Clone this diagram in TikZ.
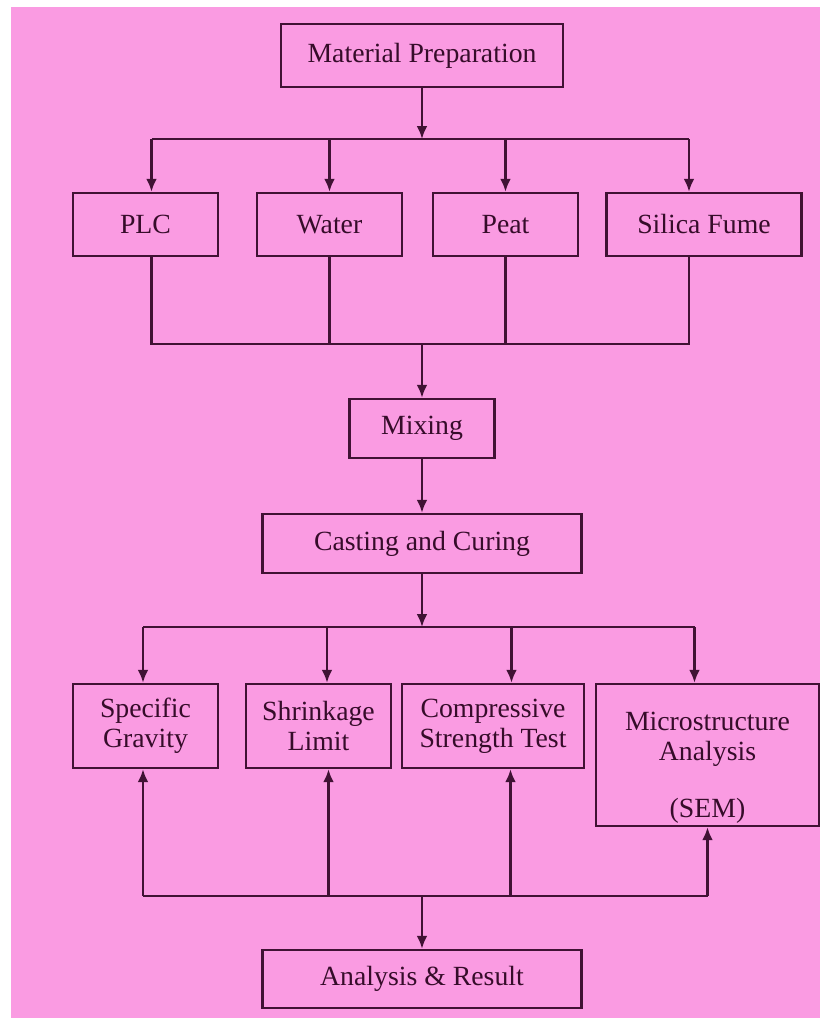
\documentclass[tikz,border=0pt]{standalone}
\usepackage{fontspec}
\setmainfont{Liberation Serif}
\usetikzlibrary{arrows.meta,calc,positioning}
\definecolor{flowpink}{RGB}{250,155,226}
\definecolor{flowline}{RGB}{64,18,52}
\definecolor{flowtext}{RGB}{54,12,42}
\tikzset{
    block/.style = {draw=flowline, rectangle, line width=1.4pt,
        minimum height=1.26cm,
        minimum width=2.9cm, align=center, text=flowtext,
        font=\fontsize{15.8}{17}\selectfont, inner sep=0pt},
    link/.style = {draw=flowline, line width=1.4pt},
    arrow/.style = {link, -{Latex[length=0.26cm,width=0.22cm]}}
}
\begin{document}
\begin{tikzpicture}
    \useasboundingbox (0,0) rectangle (16.4,-20.38);
    \fill [flowpink] (0.22,-0.14) rectangle (16.4,-20.36);
    % preparation and ingredients
    \node [block, minimum width=5.64cm] (mp) at (8.44,-1.11) {Material Preparation};
    \node [block] (plc) at (2.91,-4.49) {PLC};
    \node [block, right of=plc, node distance=3.68cm] (water) {Water};
    \node [block, right of=water, node distance=3.52cm] (peat) {Peat};
    \node [block, right of=peat, node distance=3.97cm, minimum width=3.9cm] (silica) {Silica Fume};
    \coordinate [below of=mp, node distance=1.67cm] (split1);
    \draw [arrow] (mp) -- (split1);
    \draw [link] ([xshift=0.12cm]plc.north |- split1) -- ([xshift=-0.3cm]silica.north |- split1);
    \draw [arrow] ([xshift=0.12cm]plc.north |- split1) -- ([xshift=0.12cm]plc.north);
    \draw [arrow] (water.north |- split1) -- (water);
    \draw [arrow] (peat.north |- split1) -- (peat);
    \draw [arrow] ([xshift=-0.3cm]silica.north |- split1) -- ([xshift=-0.3cm]silica.north);
    % mixing and casting
    \node [block, below of=mp, node distance=7.46cm, minimum height=1.18cm] (mixing) {Mixing};
    \node [block, below of=mixing, node distance=2.3cm, minimum width=6.38cm, minimum height=1.18cm] (casting) {Casting and Curing};
    \coordinate [above of=mixing, node distance=1.69cm] (join1);
    \draw [link] ([xshift=0.12cm]plc.south) -- ([xshift=0.12cm]plc.south |- join1) -- ([xshift=-0.3cm]silica.south |- join1) -- ([xshift=-0.3cm]silica.south);
    \draw [link] (water) -- (water |- join1);
    \draw [link] (peat) -- (peat |- join1);
    \draw [arrow] (join1) -- (mixing);
    \draw [arrow] (mixing) -- (casting);
    % tests
    \node [block, minimum height=1.68cm] (sg) at (2.91,-14.52) {Specific\\Gravity};
    \node [block, right of=sg, node distance=3.46cm, minimum height=1.68cm] (sl) {Shrinkage\\Limit};
    \node [block, right of=sl, node distance=3.49cm, minimum height=1.68cm, minimum width=3.64cm] (cst) {Compressive\\Strength Test};
    \node [block, right of=cst, node distance=4.29cm, yshift=-0.58cm, minimum height=2.84cm, minimum width=4.46cm] (ma) {\rule{0pt}{0.87cm}Microstructure\\Analysis\\[0.55cm](SEM)};
    \coordinate [below of=casting, node distance=1.67cm] (split2);
    \draw [arrow] (casting) -- (split2);
    \draw [link] ([xshift=-0.05cm]sg.north |- split2) -- ([xshift=-0.26cm]ma.north |- split2);
    \draw [arrow] ([xshift=-0.05cm]sg.north |- split2) -- ([xshift=-0.05cm]sg.north);
    \draw [arrow] ([xshift=0.17cm]sl.north |- split2) -- ([xshift=0.17cm]sl.north);
    \draw [arrow] ([xshift=0.37cm]cst.north |- split2) -- ([xshift=0.37cm]cst.north);
    \draw [arrow] ([xshift=-0.26cm]ma.north |- split2) -- ([xshift=-0.26cm]ma.north);
    % results
    \node [block, below of=casting, node distance=8.71cm, minimum width=6.38cm, minimum height=1.16cm] (ar) {Analysis \& Result};
    \coordinate [above of=ar, node distance=1.66cm] (join2);
    \draw [link] ([xshift=-0.05cm]sg.south |- join2) -- (ma.south |- join2);
    \draw [arrow] ([xshift=-0.05cm]sg.south |- join2) -- ([xshift=-0.05cm]sg.south);
    \draw [arrow] ([xshift=0.2cm]sl.south |- join2) -- ([xshift=0.2cm]sl.south);
    \draw [arrow] ([xshift=0.35cm]cst.south |- join2) -- ([xshift=0.35cm]cst.south);
    \draw [arrow] (ma.south |- join2) -- (ma);
    \draw [arrow] (join2) -- (ar);
\end{tikzpicture}
\end{document}
